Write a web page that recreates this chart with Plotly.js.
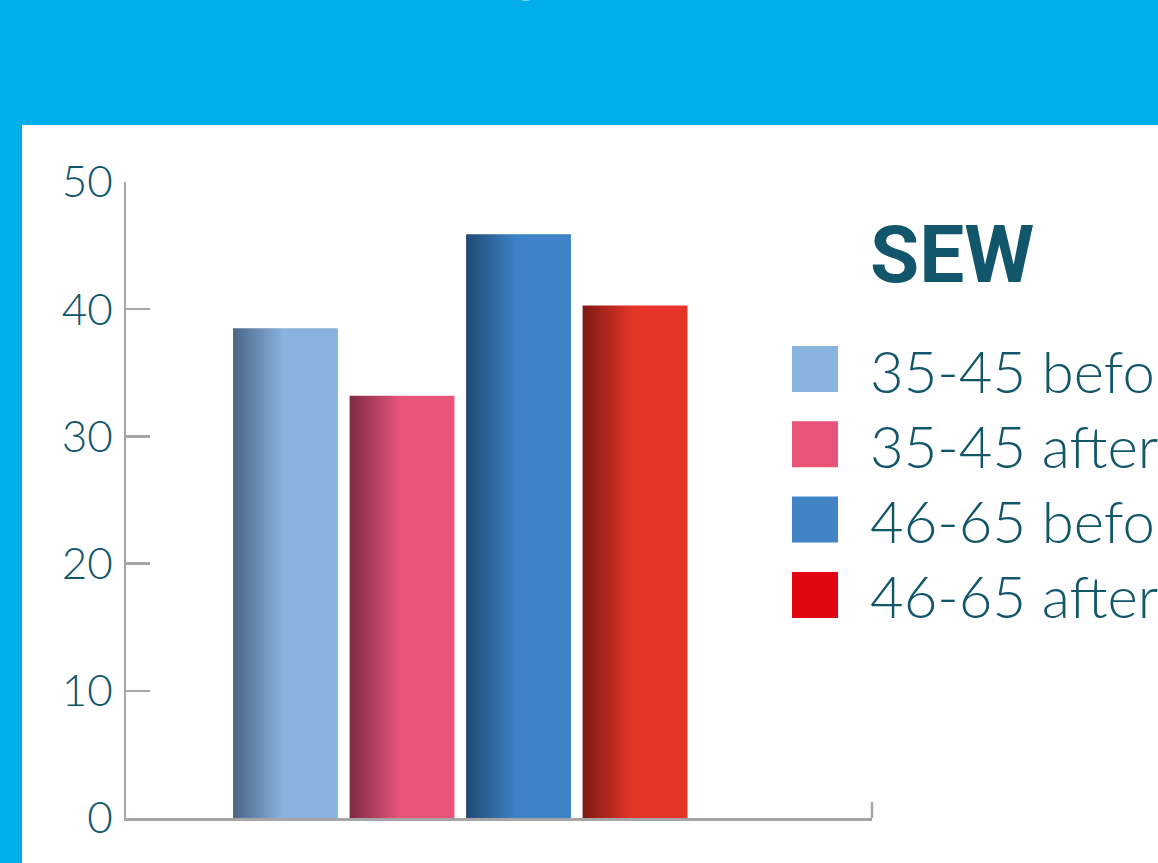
<!DOCTYPE html>
<html><head><meta charset="utf-8">
<script src="https://cdn.plot.ly/plotly-3.0.1.min.js"></script>
<style>html,body{margin:0;padding:0;overflow:hidden;background:#00aeea}</style>
</head><body><div id="chart" style="width:1158px;height:863px"></div>
<script>
// ---- data ----
const seriesNames = ['35-45 before', '35-45 after', '46-65 before', '46-65 after'];
const values = [38.5, 33.2, 45.9, 40.3];
const yTickVals = [0, 10, 20, 30, 40, 50];
const yTickText = ['0', '10', '20', '30', '40', '50'];
const legendTitle = 'SEW';
const headingText = 'group';

// ---- styles ----
const barColors = ['#8ab2de', '#e8547a', '#3d82c5', '#e43527'];
const shadeColors = ['#4a6585', '#7e2a45', '#214a75', '#7e1a15'];
const legendColors = ['#8ab4e0', '#e8537a', '#4084c6', '#e20613'];
const teal = '#12566b';
const axisGrey = '#a6a6a8';

const W = 1158, H = 863, L = 126, R = 872, T = 182, B = 818;
const px = x => (x - L) / (R - L);
const py = y => (B - y) / (B - T);
const xMin = -1.369, xMax = 5.034;

const traces = seriesNames.map((n, i) => ({
  type: 'bar', x: [i], y: [values[i]], name: n, width: 0.9,
  marker: {color: barColors[i], line: {width: 0}}, showlegend: false, hoverinfo: 'skip'
}));

const shapes = [
  {type: 'rect', xref: 'paper', yref: 'paper', x0: px(22), x1: px(1170), y0: py(125), y1: py(880),
   fillcolor: '#ffffff', line: {width: 0}, layer: 'below'},
  {type: 'line', xref: 'paper', yref: 'paper', x0: 1, x1: 1, y0: 0, y1: py(802),
   line: {color: axisGrey, width: 2.5}}
];
const annotations = [
  {xref: 'paper', yref: 'paper', x: px(868), y: py(206), xanchor: 'left', yanchor: 'top',
   text: '<b>' + legendTitle + '</b>', showarrow: false,
   font: {family: 'Roboto, Lato, sans-serif', size: 80, color: teal}},
  {xref: 'paper', yref: 'paper', x: px(508), y: py(4), xanchor: 'left', yanchor: 'bottom',
   text: headingText, showarrow: false,
   font: {family: 'Lato, sans-serif', size: 62, color: '#ffffff'}}
];
seriesNames.forEach((n, i) => {
  const top = 346 + i * 75.3;
  shapes.push({type: 'rect', xref: 'paper', yref: 'paper', x0: px(792), x1: px(838),
    y0: py(top), y1: py(top + 46), fillcolor: legendColors[i], line: {width: 0}});
  annotations.push({xref: 'paper', yref: 'paper', x: px(868), y: py(top + 24),
    xanchor: 'left', yanchor: 'middle', text: n, showarrow: false,
    font: {family: 'Lato, sans-serif', size: 58, color: teal, weight: 300}});
});

const layout = {
  width: W, height: H,
  margin: {l: L, r: W - R, t: T, b: H - B, pad: 0},
  paper_bgcolor: '#00aeea', plot_bgcolor: 'rgba(0,0,0,0)',
  showlegend: false,
  xaxis: {range: [xMin, xMax], showgrid: false, zeroline: false, showline: true,
    linecolor: axisGrey, linewidth: 2.5, showticklabels: false, ticks: '', fixedrange: true},
  yaxis: {range: [0, 50], showgrid: false, zeroline: false, showline: true,
    linecolor: axisGrey, linewidth: 2.5, ticks: 'inside', ticklen: 24, tickwidth: 2.5,
    tickcolor: axisGrey, tickvals: yTickVals, ticktext: yTickText,
    ticklabelstandoff: 2,
    tickfont: {family: 'Lato, sans-serif', size: 44, color: teal, weight: 300}, fixedrange: true},
  shapes: shapes, annotations: annotations
};

Plotly.newPlot('chart', traces, layout, {displayModeBar: false, staticPlot: true}).then(gd => {
  const svgNS = 'http://www.w3.org/2000/svg';
  const defs = gd.querySelector('svg.main-svg defs');
  seriesNames.forEach((n, i) => {
    const g = document.createElementNS(svgNS, 'linearGradient');
    g.setAttribute('id', 'bargrad' + i);
    g.setAttribute('x1', '0'); g.setAttribute('x2', '1');
    g.setAttribute('y1', '0'); g.setAttribute('y2', '0');
    [[0, shadeColors[i]], [0.48, barColors[i]], [1, barColors[i]]].forEach(([o, c]) => {
      const s = document.createElementNS(svgNS, 'stop');
      s.setAttribute('offset', o); s.setAttribute('stop-color', c);
      g.appendChild(s);
    });
    defs.appendChild(g);
  });
  gd.querySelectorAll('.barlayer .trace').forEach((tr, i) => {
    tr.querySelectorAll('path').forEach(p => { p.style.fill = 'url(#bargrad' + i + ')'; });
  });
});
</script></body></html>
